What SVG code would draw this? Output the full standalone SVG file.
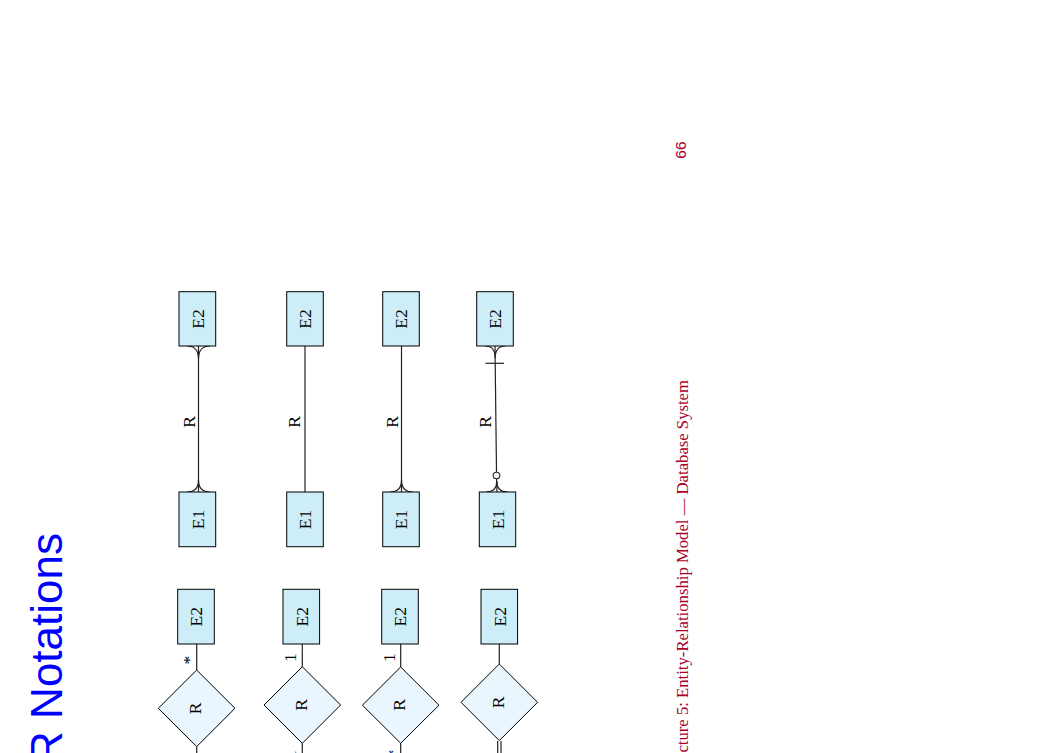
<svg xmlns="http://www.w3.org/2000/svg" width="1054" height="753" viewBox="0 0 1054 753">
<style>
.ent{fill:#cdeef9;stroke:#000;stroke-width:1}
.rel{fill:#eaf6fd;stroke:#000;stroke-width:1}
.ln{fill:none;stroke:#222;stroke-width:1.2}
.t{font-family:"Liberation Serif","Times New Roman",serif;font-size:17.5px;fill:#000;text-anchor:middle}
.title{font-family:"Liberation Sans",Arial,sans-serif;font-size:44px;fill:#0000ff;text-anchor:end}
.foot{font-family:"Liberation Serif","Times New Roman",serif;font-size:16.7px;fill:#a8002a;text-anchor:end}
.pg{font-family:"Liberation Sans",Arial,sans-serif;font-size:15.5px;fill:#a8002a;text-anchor:middle}
</style>
<rect width="1054" height="753" fill="#fff"/>
<text class="title" transform="translate(62,533) rotate(-90)">ER Notations</text>
<text class="pg" transform="translate(686,150) rotate(-90)">66</text>
<text class="foot" transform="translate(688,380) rotate(-90)">Lecture 5: Entity-Relationship Model — Database System</text>

<g id="connectors">
  <path class="ln" d="M198.5,346 V492"/>
  <path class="ln" d="M187,346 Q198.5,346 198.5,359 M210,346 Q198.5,346 198.5,359"/>
  <path class="ln" d="M187,492 Q198.5,492 198.5,480 M210,492 Q198.5,492 198.5,480"/>
  <text class="t" transform="translate(195,422) rotate(-90)">R</text>
  <path class="ln" d="M305,346 V492"/>
  <text class="t" transform="translate(300,422) rotate(-90)">R</text>
  <path class="ln" d="M401.5,346 V492"/>
  <path class="ln" d="M390,492 Q401.5,492 401.5,480 M413,492 Q401.5,492 401.5,480"/>
  <text class="t" transform="translate(397.5,422) rotate(-90)">R</text>
  <path class="ln" d="M495,346 L496.5,472"/>
  <path class="ln" d="M496.6,479 L497,492"/>
  <path class="ln" d="M485,346 Q495.2,346 495.2,358 M505.5,346 Q495.2,346 495.2,358"/>
  <path class="ln" d="M485.5,363.3 H504"/>
  <circle cx="496.5" cy="475.5" r="3.3" fill="#fff" stroke="#222" stroke-width="1.1"/>
  <path class="ln" d="M486,492 Q496.8,492 496.8,481 M507.5,492 Q496.8,492 496.8,481"/>
  <text class="t" transform="translate(491,422) rotate(-90)">R</text>

  <path class="ln" d="M196.7,644 V670 M196.7,746.6 V760"/>
  <path class="ln" d="M302.3,644 V666.7 M302.3,743.3 V760"/>
  <path class="ln" d="M400.7,644 V667 M400.7,743.3 V760"/>
  <path class="ln" d="M499.3,644 V664 M497.7,741 V760 M501,741 V760"/>
  <text class="t" transform="translate(195,660) rotate(-90)">*</text>
  <text class="t" transform="translate(195,757) rotate(-90)">*</text>
  <text class="t" transform="translate(295.5,657.5) rotate(-90)">1</text>
  <text class="t" transform="translate(295.5,754.5) rotate(-90)">1</text>
  <text class="t" transform="translate(395,657.5) rotate(-90)">1</text>
  <text class="t" transform="translate(399,754) rotate(-90)">*</text>
</g>

<g id="cf1-E2"><rect class="ent" x="179" y="291.7" width="36.7" height="54.3"/><text class="t" transform="translate(203.5,319) rotate(-90)">E2</text></g>
<g id="cf1-E1"><rect class="ent" x="179" y="492" width="36.7" height="54.7"/><text class="t" transform="translate(203.5,519.5) rotate(-90)">E1</text></g>
<g id="cf2-E2"><rect class="ent" x="286.7" y="291.7" width="36.6" height="54.3"/><text class="t" transform="translate(311,319) rotate(-90)">E2</text></g>
<g id="cf2-E1"><rect class="ent" x="286.7" y="492" width="36.6" height="54.7"/><text class="t" transform="translate(311,519.5) rotate(-90)">E1</text></g>
<g id="cf3-E2"><rect class="ent" x="382.7" y="291.7" width="36.6" height="54.3"/><text class="t" transform="translate(407,319) rotate(-90)">E2</text></g>
<g id="cf3-E1"><rect class="ent" x="382.7" y="492" width="36.6" height="54.7"/><text class="t" transform="translate(407,519.5) rotate(-90)">E1</text></g>
<g id="cf4-E2"><rect class="ent" x="476.7" y="291.7" width="36.6" height="54.3"/><text class="t" transform="translate(501,319) rotate(-90)">E2</text></g>
<g id="cf4-E1"><rect class="ent" x="479.3" y="492" width="36.4" height="54.7"/><text class="t" transform="translate(503.5,519.5) rotate(-90)">E1</text></g>

<g id="chen1-E2"><rect class="ent" x="177.7" y="589.3" width="36.6" height="54.7"/><text class="t" transform="translate(202,616.7) rotate(-90)">E2</text></g>
<g id="chen1-R"><polygon class="rel" points="196.7,670 235,708.3 196.7,746.6 158.3,708.3"/><text class="t" transform="translate(201,708.3) rotate(-90)">R</text></g>
<g id="chen2-E2"><rect class="ent" x="283" y="589.3" width="36.6" height="54.7"/><text class="t" transform="translate(307.5,616.7) rotate(-90)">E2</text></g>
<g id="chen2-R"><polygon class="rel" points="302.3,666.7 340.6,705 302.3,743.3 264,705"/><text class="t" transform="translate(306.5,705) rotate(-90)">R</text></g>
<g id="chen3-E2"><rect class="ent" x="381.7" y="589.3" width="36.6" height="54.7"/><text class="t" transform="translate(406,616.7) rotate(-90)">E2</text></g>
<g id="chen3-R"><polygon class="rel" points="400.7,667 439,705.2 400.7,743.3 362.4,705.2"/><text class="t" transform="translate(405,705) rotate(-90)">R</text></g>
<g id="chen4-E2"><rect class="ent" x="481" y="589.3" width="36.6" height="54.7"/><text class="t" transform="translate(505.5,616.7) rotate(-90)">E2</text></g>
<g id="chen4-R"><polygon class="rel" points="499.3,664 537.6,702.3 499.3,740.6 461,702.3"/><text class="t" transform="translate(503.5,702.3) rotate(-90)">R</text></g>
</svg>
